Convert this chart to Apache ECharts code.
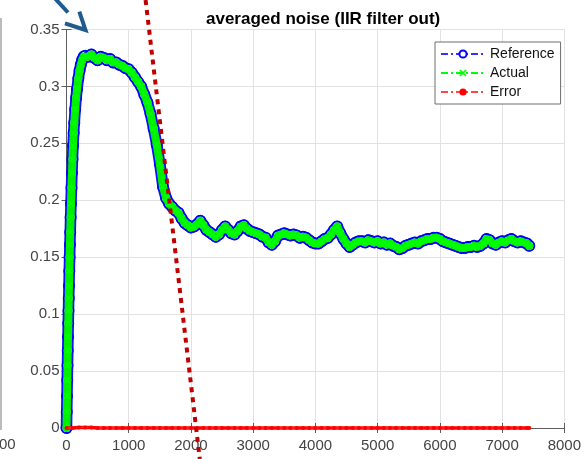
<!DOCTYPE html>
<html>
<head>
<meta charset="utf-8">
<script src="https://cdn.jsdelivr.net/npm/echarts@6/dist/echarts.min.js"></script>
<style>html,body{margin:0;padding:0;background:#fff}#c{width:584px;height:459px}</style>
</head>
<body>
<div id="c"></div>
<script>
const titleText = 'averaged noise (IIR filter out)';
const legendNames = ['Reference', 'Actual', 'Error'];
const xTicks = [0, 1000, 2000, 3000, 4000, 5000, 6000, 7000, 8000];
const yTicks = [0, 0.05, 0.1, 0.15, 0.2, 0.25, 0.3, 0.35];

const sampleX = [0,4,8,12,16,20,24,28,32,36,40,45,50,55,60,66,72,80,88,96,105,115,125,140,155,170,190,210,230,250,275,
300,350,400,450,500,550,600,650,700,750,800,850,900,950,1000,1050,1100,1150,1200,1250,1300,1350,1400,1450,1500,1550,1600,1650,1700,1750,1800,1850,1900,1950,2000,
2050,2100,2150,2200,2250,2300,2350,2400,2450,2500,2550,2600,2650,2700,2750,2800,2850,2900,2950,3000,
3050,3100,3150,3200,3250,3300,3350,3400,3450,3500,3550,3600,3650,3700,3750,3800,3850,3900,3950,4000,
4050,4100,4150,4200,4250,4300,4350,4400,4450,4500,4550,4600,4650,4700,4750,4800,4850,4900,4950,5000,
5050,5100,5150,5200,5250,5300,5350,5400,5450,5500,5550,5600,5650,5700,5750,5800,5850,5900,5950,6000,
6050,6100,6150,6200,6250,6300,6350,6400,6450,6500,6550,6600,6650,6700,6750,6800,6850,6900,6950,7000,
7050,7100,7150,7200,7250,7300,7350,7400,7437];

const referenceY = [0,0.014,0.028,0.042,0.055,0.068,0.080,0.092,0.103,0.114,0.125,0.138,0.150,0.161,0.172,0.185,0.197,0.211,0.224,0.236,0.248,0.259,0.268,0.280,0.290,0.298,0.307,0.314,0.319,0.323,0.326,
0.327,0.326,0.328,0.325,0.323,0.326,0.325,0.323,0.324,0.321,0.321,0.319,0.318,0.316,0.315,0.312,0.308,0.304,0.300,0.293,0.286,0.276,0.263,0.249,0.232,0.212,0.202,0.197,0.194,0.191,0.189,0.184,0.180,0.178,0.176,
0.177,0.179,0.182,0.178,0.174,0.172,0.170,0.168,0.170,0.174,0.177,0.174,0.171,0.170,0.173,0.177,0.178,0.175,0.173,0.172,
0.171,0.170,0.168,0.167,0.163,0.161,0.164,0.169,0.170,0.171,0.170,0.169,0.170,0.169,0.167,0.168,0.167,0.165,0.163,0.162,
0.162,0.164,0.166,0.167,0.170,0.174,0.177,0.171,0.166,0.162,0.159,0.161,0.163,0.164,0.164,0.163,0.165,0.164,0.163,0.164,
0.162,0.163,0.161,0.162,0.160,0.159,0.157,0.158,0.160,0.161,0.162,0.163,0.162,0.164,0.165,0.166,0.166,0.167,0.167,0.166,
0.164,0.163,0.162,0.161,0.160,0.159,0.158,0.158,0.159,0.159,0.160,0.159,0.160,0.162,0.166,0.165,0.162,0.161,0.163,0.164,
0.163,0.165,0.166,0.164,0.163,0.164,0.163,0.162,0.160];

const actualY = [0,0.014,0.028,0.042,0.055,0.068,0.080,0.092,0.103,0.114,0.125,0.138,0.150,0.161,0.172,0.185,0.197,0.211,0.224,0.236,0.248,0.259,0.268,0.280,0.290,0.298,0.307,0.314,0.319,0.323,0.326,
0.327,0.326,0.328,0.325,0.323,0.326,0.325,0.323,0.324,0.321,0.321,0.319,0.318,0.316,0.315,0.312,0.308,0.304,0.300,0.293,0.286,0.276,0.263,0.249,0.232,0.212,0.202,0.197,0.194,0.191,0.189,0.184,0.180,0.178,0.176,
0.177,0.179,0.182,0.178,0.174,0.172,0.170,0.168,0.170,0.174,0.177,0.174,0.171,0.170,0.173,0.177,0.178,0.175,0.173,0.172,
0.171,0.170,0.168,0.167,0.163,0.161,0.164,0.169,0.170,0.171,0.170,0.169,0.170,0.169,0.167,0.168,0.167,0.165,0.163,0.162,
0.162,0.164,0.166,0.167,0.170,0.174,0.177,0.171,0.166,0.162,0.159,0.161,0.163,0.164,0.164,0.163,0.165,0.164,0.163,0.164,
0.162,0.163,0.161,0.162,0.160,0.159,0.157,0.158,0.160,0.161,0.162,0.163,0.162,0.164,0.165,0.166,0.166,0.167,0.167,0.166,
0.164,0.163,0.162,0.161,0.160,0.159,0.158,0.158,0.159,0.159,0.160,0.159,0.160,0.162,0.166,0.165,0.162,0.161,0.163,0.164,
0.163,0.165,0.166,0.164,0.163,0.164,0.163,0.162,0.160];

const errorX = [0,100,200,300,400,500,600,700,800,900,1000,1100,1200,1300,1400,1500,1600,1700,1800,1900,2000,
2100,2200,2300,2400,2500,2600,2700,2800,2900,3000,3100,3200,3300,3400,3500,3600,3700,3800,3900,4000,
4100,4200,4300,4400,4500,4600,4700,4800,4900,5000,5100,5200,5300,5400,5500,5600,5700,5800,5900,6000,
6100,6200,6300,6400,6500,6600,6700,6800,6900,7000,7100,7200,7300,7400,7437];
const errorY = [0,0,0.0005,0.0005,0.0005,0,0,0,0,0,0,0,0,0,0,0,0,0,0,0,0,
0,0,0,0,0,0,0,0,0,0,0,0,0,0,0,0,0,0,0,0,
0,0,0,0,0,0,0,0,0,0,0,0,0,0,0,0,0,0,0,0,
0,0,0,0,0,0,0,0,0,0,0,0,0,0,0,0];

const FONT = "'Liberation Sans', Arial, sans-serif";
const refData = sampleX.map((x, i) => [x, referenceY[i]]);
const actData = sampleX.map((x, i) => [x, actualY[i]]);
const errData = errorX.map((x, i) => [x, errorY[i]]);
const dashDot = [7, 3, 2, 3];
const xPath = 'path://M0,1.6L1.6,0L5,3.4L8.4,0L10,1.6L6.6,5L10,8.4L8.4,10L5,6.6L1.6,10L0,8.4L3.4,5Z';

const axisCommon = {
  type: 'value',
  axisLine: { show: true, lineStyle: { color: '#5e5e5e', width: 1 } },
  axisTick: { show: true, inside: true, length: 5, lineStyle: { color: '#5e5e5e' } },
};

const chart = echarts.init(document.getElementById('c'), null, { renderer: 'canvas' });
chart.setOption({
  animation: false,
  backgroundColor: '#ffffff',
  title: {
    text: titleText, left: 201, top: 6,
    textStyle: { fontFamily: FONT, fontSize: 17, fontWeight: 'bold', color: '#000' }
  },
  grid: { left: 66.5, right: 12.5, top: 29.5, bottom: 31 },
  legend: {
    data: legendNames, orient: 'vertical', left: 435, top: 42,
    padding: [5, 6, 5, 5], itemWidth: 44, itemHeight: 9, itemGap: 5,
    backgroundColor: '#fff', borderColor: '#6e6e6e', borderWidth: 1,
    textStyle: { fontFamily: FONT, fontSize: 14, color: '#111' }
  },
  xAxis: [
    Object.assign({}, axisCommon, {
      position: 'bottom', min: xTicks[0], max: xTicks[xTicks.length - 1], interval: 1000,
      axisLabel: { show: true, margin: 10, fontFamily: FONT, fontSize: 15, color: '#444', formatter: v => String(v) },
      splitLine: { show: true, lineStyle: { color: '#e2e2e2', width: 1 } }
    }),
    Object.assign({}, axisCommon, {
      position: 'top', min: xTicks[0], max: xTicks[xTicks.length - 1], interval: 1000,
      axisLabel: { show: false }, splitLine: { show: false }
    })
  ],
  yAxis: [
    Object.assign({}, axisCommon, {
      position: 'left', min: yTicks[0], max: yTicks[yTicks.length - 1], interval: 0.05,
      axisLabel: { show: true, margin: 7, fontFamily: FONT, fontSize: 15, color: '#444', formatter: v => String(+v.toFixed(2)) },
      splitLine: { show: true, lineStyle: { color: '#e2e2e2', width: 1 } }
    }),
    Object.assign({}, axisCommon, {
      position: 'right', min: yTicks[0], max: yTicks[yTicks.length - 1], interval: 0.05,
      axisLabel: { show: false }, splitLine: { show: false }
    })
  ],
  series: [
    { name: 'refBand', type: 'line', data: refData, showSymbol: false, symbol: 'none', clip: false, z: 2,
      lineStyle: { color: '#1010ff', width: 11.5, cap: 'round', join: 'round' }, silent: true },
    { name: 'Reference', type: 'line', data: refData, clip: false, z: 3,
      symbol: 'emptyCircle', symbolSize: 10, showAllSymbol: true,
      itemStyle: { color: '#0000ff', borderColor: '#0000ff', borderWidth: 1.2 },
      lineStyle: { color: '#3333ff', width: 1, type: dashDot } },
    { name: 'actBand', type: 'line', data: actData, showSymbol: false, symbol: 'none', clip: false, z: 4,
      lineStyle: { color: '#00ee00', width: 8, cap: 'round', join: 'round' }, silent: true },
    { name: 'Actual', type: 'line', data: actData, clip: false, z: 5,
      symbol: xPath, symbolSize: 7, showAllSymbol: true,
      itemStyle: { color: '#00ff00' },
      lineStyle: { color: '#00ff00', width: 1, type: dashDot } },
    { name: 'errBand', type: 'line', data: errData, showSymbol: false, symbol: 'none', clip: false, z: 6,
      lineStyle: { color: '#ff0000', width: 3.5 }, silent: true },
    { name: 'Error', type: 'line', data: errData, clip: false, z: 7,
      symbol: 'circle', symbolSize: 4, showAllSymbol: true,
      itemStyle: { color: '#ff0000' },
      lineStyle: { color: '#ff4444', width: 1, type: dashDot } }
  ],
  graphic: [
    { type: 'line', z: 100, shape: { x1: 1, y1: 18, x2: 1, y2: 430 }, style: { stroke: '#a6a6a6', lineWidth: 1.5 } },
    { type: 'text', z: 100, left: -1, top: 437, style: { text: '00', fontFamily: FONT, fontSize: 15, fill: '#444' } },
    { type: 'line', z: 100, shape: { x1: 145.6, y1: 0, x2: 199.8, y2: 459 },
      style: { stroke: '#c00000', lineWidth: 4, lineDash: [5, 5] } },
    { type: 'line', z: 100, shape: { x1: 50, y1: -7, x2: 68, y2: 12.5 },
      style: { stroke: '#1f5b8e', lineWidth: 4 } },
    { type: 'polyline', z: 100, shape: { points: [[65, 23.3], [85.5, 30], [79.3, 11.7]] },
      style: { stroke: '#1f5b8e', lineWidth: 4, fill: null, lineJoin: 'miter' } }
  ]
});
</script>
</body>
</html>
